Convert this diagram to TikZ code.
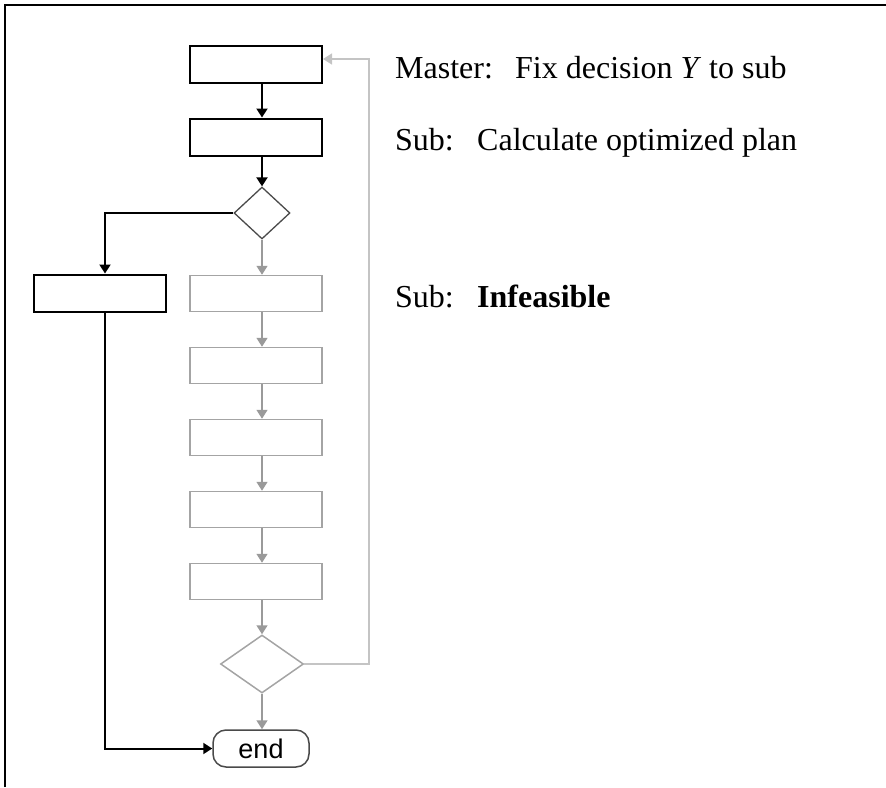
\documentclass[tikz,border=0pt]{standalone}
\usepackage{fontspec}
\setmainfont{Liberation Serif}
\newfontfamily\labelsans{Liberation Sans}
\usetikzlibrary{shapes.geometric,arrows.meta}
\definecolor{boxgray}{HTML}{A4A4A4}
\definecolor{arrowgray}{HTML}{9A9A9A}
\definecolor{loopgray}{HTML}{C4C4C4}
\definecolor{dgray}{HTML}{4A4A4A}
\begin{document}
\begin{tikzpicture}[x=1pt,y=-1pt,
  stepbox/.style={rectangle,draw=black,line width=2pt,minimum width=132pt,minimum height=37pt,inner sep=0pt},
  greybox/.style={rectangle,draw=boxgray,line width=1.5pt,minimum width=132pt,minimum height=36pt,inner sep=0pt},
  decide/.style={diamond,inner sep=0pt},
  blackarrow/.style={line width=2pt,draw=black,-{Triangle[length=9pt,width=11pt]}},
  greyarrow/.style={line width=1.5pt,draw=arrowgray,-{Triangle[length=9pt,width=11pt]}},
  looparrow/.style={line width=1.5pt,draw=loopgray,-{Triangle[length=9pt,width=11pt]}},
  note/.style={anchor=base west,inner sep=0pt,font=\fontsize{32}{36}\selectfont}
]
\useasboundingbox (0,0) rectangle (886,787);
% frame edges
\draw[line width=2.5pt] (5,787) -- (5,5) -- (886,5);

% main column
\node[stepbox] (b1) at (256,64.5) {};
\node[stepbox] (b2) at (256,137) {};
\node[decide,draw=dgray,line width=1.3pt,minimum width=56pt,minimum height=52pt] (d1) at (262,213) {};
\node[stepbox] (lb) at (99.5,293) {};
\node[greybox] (g1) at (256,293.5) {};
\node[greybox] (g2) at (256,365.5) {};
\node[greybox] (g3) at (256,437.5) {};
\node[greybox] (g4) at (256,509.5) {};
\node[greybox] (g5) at (256,581.5) {};
\node[decide,draw=boxgray,line width=1.5pt,minimum width=83pt,minimum height=58pt] (d2) at (262,664) {};
\node[rectangle,rounded corners=13pt,draw=dgray,line width=1.5pt,minimum width=96pt,minimum height=37pt,inner sep=0pt,font=\labelsans\fontsize{27}{30}\selectfont] (end) at (261,748.5) {end};

\coordinate (lx) at (105,213);
\coordinate (fb) at (369,59);

% black connectors
\draw[blackarrow] (d1 |- b1.south) -- (d1 |- b2.north);
\draw[blackarrow] (d1 |- b2.south) -- (d1.north);
\draw[blackarrow] (d1.west) -- (lx) -- (lx |- lb.north);
\draw[blackarrow] (lx |- lb.south) -- (lx |- end.west) -- (end.west);

% grey connectors
\draw[greyarrow] (d1.south) -- (d1 |- g1.north);
\draw[greyarrow] (d1 |- g1.south) -- (d1 |- g2.north);
\draw[greyarrow] (d1 |- g2.south) -- (d1 |- g3.north);
\draw[greyarrow] (d1 |- g3.south) -- (d1 |- g4.north);
\draw[greyarrow] (d1 |- g4.south) -- (d1 |- g5.north);
\draw[greyarrow] (d1 |- g5.south) -- (d2.north);
\draw[greyarrow] (d2.south) -- (d2 |- end.north);
\draw[looparrow] (d2.east) -- (fb |- d2.east) -- (fb) -- (b1.east |- fb);

% notes
\node[note] (m1) at (395,78) {Master:};
\node[note] (m2) at (515,78) {Fix decision \textit{Y} to sub};
\node[note] (s1) at (395,150) {Sub:};
\node[note] (s2) at (477,150) {Calculate optimized plan};
\node[note] (s3) at (395,307) {Sub:};
\node[note] (s4) at (477,307) {\textbf{Infeasible}};
\end{tikzpicture}
\end{document}
